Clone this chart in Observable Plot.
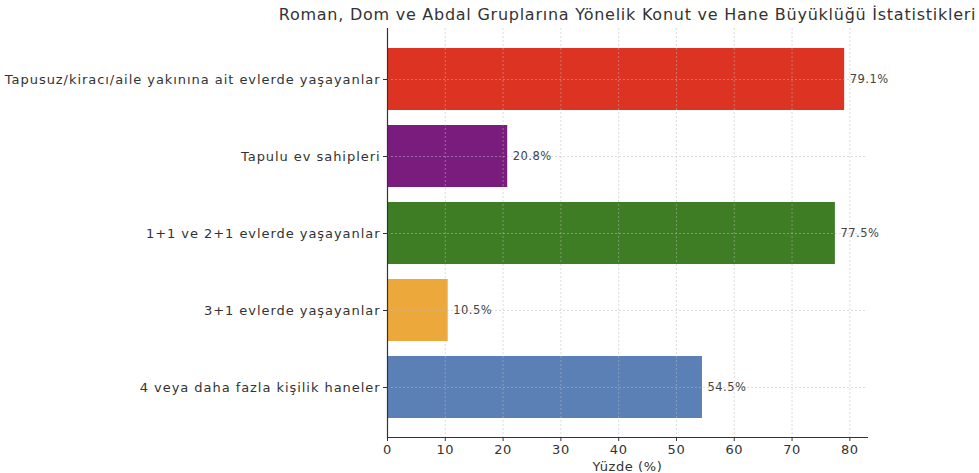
<!DOCTYPE html>
<html><head><meta charset="utf-8">
<script src="https://cdn.jsdelivr.net/npm/d3@7"></script>
<script src="https://cdn.jsdelivr.net/npm/@observablehq/plot@0.6"></script>
<style>body{margin:0;background:#fff;overflow:hidden}svg{overflow:visible}</style>
</head><body><div id="chart"></div>
<script>
const categories = [
  "Tapusuz/kiracı/aile yakınına ait evlerde yaşayanlar",
  "Tapulu ev sahipleri",
  "1+1 ve 2+1 evlerde yaşayanlar",
  "3+1 evlerde yaşayanlar",
  "4 veya daha fazla kişilik haneler"
];
const values = [79.1, 20.8, 77.5, 10.5, 54.5];
const colors = ["#dc3322", "#7a1c7e", "#3e7d24", "#eca83a", "#5b80b6"];
const xTicks = [0, 10, 20, 30, 40, 50, 60, 70, 80];
const title = "Roman, Dom ve Abdal Gruplarına Yönelik Konut ve Hane Büyüklüğü İstatistikleri";
const xLabel = "Yüzde (%)";

const data = categories.map((c, i) => ({cat: c, v: values[i], color: colors[i]}));
const xmax = d3.max(values) * 1.05;

const chart = Plot.plot({
  width: 979, height: 473,
  marginLeft: 387, marginRight: 112, marginTop: 28, marginBottom: 36,
  style: {fontFamily: "DejaVu Sans", fontSize: "12px", color: "#333", background: "#fff"},
  x: {domain: [0, xmax], ticks: xTicks, label: null},
  y: {domain: categories, paddingInner: 0.2, paddingOuter: 0.24, label: null},
  marks: [
    Plot.barX(data, {x: "v", y: "cat", fill: "color"}),
    Plot.gridX(xTicks, {stroke: "#bbb", strokeOpacity: 0.5, strokeDasharray: "2,2"}),
    Plot.gridY(categories, {stroke: "#bbb", strokeOpacity: 0.5, strokeDasharray: "2,2"}),
    Plot.text(data, {x: "v", y: "cat", text: d => d.v.toFixed(1) + "%", textAnchor: "start", dx: 5, fontSize: 11.5, fill: "#444", className: "vlabel"}),
    Plot.ruleX([0], {stroke: "#333", strokeWidth: 1.2}),
    Plot.axisX({ticks: xTicks, tickSize: 4, tickPadding: 3, fontSize: 13, stroke: "#333", fill: "#333", className: "xax"}),
    Plot.axisY({tickSize: 4, tickPadding: 3, fontSize: 13, stroke: "#333", fill: "#333", className: "yax"}),
    Plot.frame({anchor: "bottom", stroke: "#333", strokeWidth: 1.2}),
    Plot.text([title], {frameAnchor: "top", dy: -20, fontSize: 16, fill: "#333", className: "ttl"}),
    Plot.text([xLabel], {frameAnchor: "bottom", dy: 33, fontSize: 13, fill: "#333", className: "xlab"})
  ]
});
document.getElementById("chart").appendChild(chart);
d3.select(chart).selectAll(".yax text").style("letter-spacing", "0.95px");
d3.select(chart).selectAll(".ttl text").style("letter-spacing", "0.75px");
d3.select(chart).selectAll(".vlabel text").style("letter-spacing", "0.5px");
d3.select(chart).selectAll(".xax text, .xlab text").style("letter-spacing", "0.6px");
</script></body></html>
